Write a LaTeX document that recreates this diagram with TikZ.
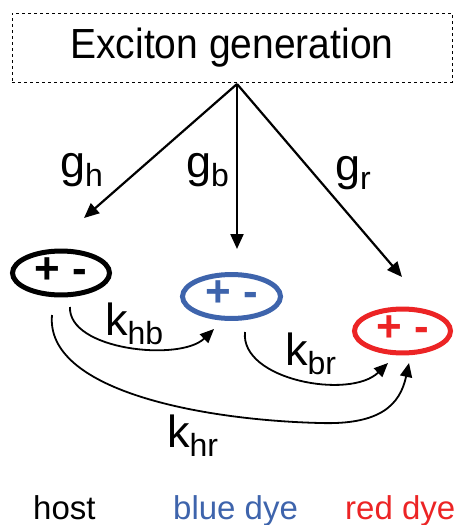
\documentclass[tikz,border=0pt]{standalone}
\usepackage{fontspec}
\setmainfont{Liberation Sans}
\usetikzlibrary{arrows.meta,shapes.geometric}
\definecolor{dyeblue}{RGB}{62,100,172}
\definecolor{dyered}{RGB}{236,36,37}
\newcommand{\lab}[2]{{\fontsize{45}{48}\selectfont #1}\raisebox{-9pt}{\fontsize{32}{34}\selectfont #2}}
\begin{document}
\begin{tikzpicture}[x=1pt,y=-1pt,
  arr/.style={line width=2.2pt,-{Triangle[length=15pt,width=13pt]}},
  carr/.style={line width=1.8pt,-{Triangle[length=14pt,width=12pt]}},
  exc/.style={ellipse,draw,line width=5pt,inner sep=0pt,
    font=\fontsize{44}{46}\selectfont\bfseries},
  lbl/.style={inner sep=0pt,anchor=base west},
  bot/.style={font=\fontsize{33}{36}\selectfont,inner sep=0pt,anchor=base west}
]
\useasboundingbox (0,0) rectangle (460,525);
\node[draw,dashed,line width=0.8pt,minimum width=440pt,minimum height=69pt,inner sep=0pt,
  font=\fontsize{39}{44}\selectfont] (gen) at (232,47.5) {\scalebox{1}[1.08]{Exciton generation}};
\coordinate (apex) at (237,84);
% excitons
\node[exc,minimum width=97pt,minimum height=35pt,draw=black] (host) at (61,273) {\raisebox{0.12em}{+ -}};
\node[exc,minimum width=98pt,minimum height=42pt,draw=dyeblue,text=dyeblue] (blue) at (231.5,296.5) {\raisebox{0.12em}{+ -}};
\node[exc,minimum width=96pt,minimum height=43pt,draw=dyered,text=dyered] (red) at (402.5,331) {\raisebox{0.12em}{+ -}};
% generation arrows
\coordinate (th) at (84,218);
\coordinate (tb) at (237,249);
\coordinate (tr) at (402,277);
\draw[arr] (apex) -- (th);
\draw[arr] (apex) -- (tb);
\draw[arr] (apex) -- (tr);
\node[lbl] (gh) at (60,177) {\lab{g}{h}};
\node[lbl] (gb) at (186,177) {\lab{g}{b}};
\node[lbl] (gr) at (335,180) {\lab{g}{r}};
% transfer arrows
\coordinate (hb0) at (70,307);
\coordinate (hb1) at (214,329);
\coordinate (hr0) at (52,315);
\coordinate (hr1) at (409,363);
\coordinate (hrm) at (320,423);
\coordinate (br0) at (245,332);
\coordinate (br1) at (388,363);
\draw[carr] (hb0) .. controls (68,350) and (180,362) .. (hb1);
\draw[carr] (hr0) .. controls (45,390) and (200,420) .. (hrm) .. controls (380,425) and (400,405) .. (hr1);
\draw[carr] (br0) .. controls (240,380) and (350,400) .. (br1);
\node[lbl] (khb) at (105,335) {\lab{k}{hb}};
\node[lbl] (kbr) at (285,365) {\lab{k}{br}};
\node[lbl] (khr) at (167,447) {\lab{k}{hr}};
% legend
\node[bot] (lh) at (33,519) {host};
\node[bot,text=dyeblue] (lb) at (173,519) {blue dye};
\node[bot,text=dyered] (lr) at (345,519) {red dye};
\end{tikzpicture}
\end{document}
